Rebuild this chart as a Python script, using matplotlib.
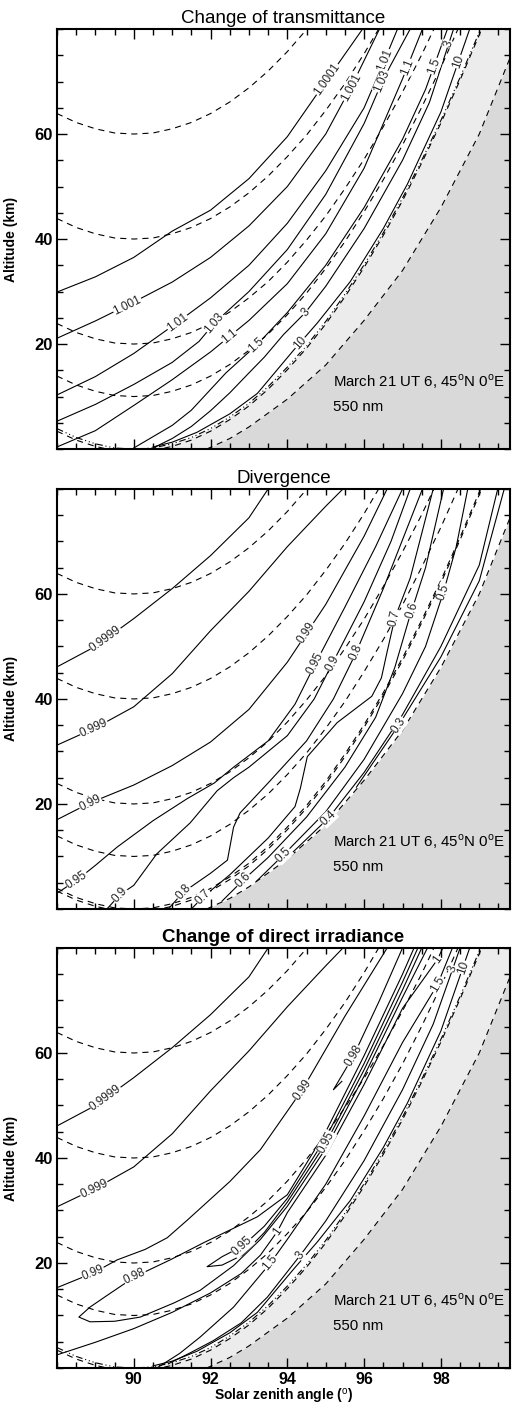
import numpy as np
import matplotlib
matplotlib.use('Agg')
import matplotlib.pyplot as plt
from matplotlib.ticker import MultipleLocator

plt.rcParams['font.family'] = ['Liberation Sans', 'DejaVu Sans']
plt.rcParams['mathtext.fontset'] = 'custom'
plt.rcParams['mathtext.rm'] = 'Liberation Sans'
plt.rcParams['mathtext.bf'] = 'Liberation Sans:bold'

# ---- reference curves (dashed): constant tangent height ----
TH_SZA = [88, 88.5, 89, 89.5, 90, 90.5, 91, 91.5, 92, 92.5, 93, 93.5, 94, 94.5,
          95, 95.5, 96, 96.5, 97, 97.5, 98, 98.5, 99, 99.5, 100]
TH60 = [63.9, 62.2, 61.0, 60.2, 60.0, 60.2, 61.0, 62.2, 63.9, 66.1, 68.8, 72.0, 75.7, 79.9, 84.6]
TH40 = [43.9, 42.2, 41.0, 40.2, 40.0, 40.2, 41.0, 42.2, 43.9, 46.1, 48.8, 52.0, 55.7, 59.8,
        64.5, 69.6, 75.3, 81.5]
TH20 = [23.9, 22.2, 21.0, 20.2, 20.0, 20.2, 21.0, 22.2, 23.9, 26.1, 28.8, 31.9, 35.6, 39.8,
        44.4, 49.6, 55.2, 61.4, 68.0, 75.1, 82.8]
TH10 = [13.9, 12.2, 11.0, 10.2, 10.0, 10.2, 11.0, 12.2, 13.9, 16.1, 18.8, 21.9, 25.6, 29.7,
        34.4, 39.5, 45.2, 51.3, 57.9, 65.1, 72.7, 80.9]
TH0 = [3.9, 2.2, 1.0, 0.2, 0.0, 0.2, 1.0, 2.2, 3.9, 6.1, 8.7, 11.9, 15.6, 19.7, 24.3, 29.5,
       35.1, 41.2, 47.8, 55.0, 62.6, 70.8, 79.4, 88.6, 98.3]
THM = [3.4, 1.7, 0.5, -0.3, -0.5, -0.3, 0.5, 1.7, 3.4, 5.6, 8.2, 11.4, 15.1, 19.2, 23.8, 29.0,
       34.6, 40.7, 47.3, 54.5, 62.1, 70.3, 78.9, 88.1, 97.8]

# edge of the dark (shadow) region
DARK_SZA = [91.9, 92.5, 93.0, 94.0, 95.0, 96.0, 97.0, 98.0, 99.0, 99.8, 100.0]
DARK_ALT = [0.0, 2.0, 4.2, 9.5, 16.0, 24.5, 34.0, 46.0, 60.0, 74.5, 78.0]

# ---- panel 1: change of transmittance ----
T_x = [[88, 89, 90, 91, 92, 93, 94, 95, 95.96],
       [88, 89, 90, 91, 92, 93, 94, 95, 95.7, 96.4],
       [88, 89, 90, 91, 92, 93, 94, 95, 96, 96.5, 96.87],
       [88, 89, 90, 91, 91.7, 92.1, 93, 94, 95, 96, 96.5, 97.2],
       [88, 89, 90, 91, 92, 93, 94, 95, 96, 97, 97.52],
       [90, 91, 91.5, 92.4, 93.2, 94, 95, 96, 97, 97.6, 98.17],
       [90.5, 91, 91.5, 92, 92.5, 93.04, 93.4, 93.9, 94.47, 95, 96, 97, 97.7, 98.33],
       [90.5, 91, 91.65, 92.5, 93.22, 94.16, 94.78, 95.64, 96.5, 97.13, 98, 98.75]]
T_y = [[29.9, 32.8, 36.5, 41.5, 45.5, 51.5, 59.5, 70.0, 80.0],
       [21.1, 24.4, 28.0, 31.8, 36.5, 42.5, 50.0, 60.0, 69.5, 80.0],
       [10.3, 13.8, 18.2, 23.4, 28.8, 35.0, 43.0, 53.0, 65.0, 73.5, 80.0],
       [5.3, 8.5, 12.3, 16.5, 20.5, 24.0, 30.0, 38.0, 48.5, 62.0, 70.5, 80.0],
       [0.4, 3.5, 8.3, 13.2, 18.5, 24.5, 31.5, 41.0, 53.5, 70.5, 80.0],
       [0.2, 4.5, 7.4, 14.5, 19.8, 26.0, 35.0, 46.0, 59.0, 68.5, 80.0],
       [0.2, 2.0, 4.3, 7.3, 10.7, 14.8, 17.5, 21.8, 26.0, 31.0, 42.0, 55.0, 66.0, 80.0],
       [0.4, 1.3, 3.2, 6.7, 10.6, 18.8, 24.0, 31.9, 42.0, 50.5, 64.2, 80.0]]
T_lab = ['1.0001', '1.001', '1.001', '1.01', '1.01', '1.03', '1.03', '1.1', '1.1',
         '1.5', '1.5', '3', '3', '10', '10']
T_lab_line = [0, 1, 1, 2, 2, 3, 3, 4, 4, 5, 5, 6, 6, 7, 7]
T_lab_x = [95.12, 89.83, 95.64, 91.13, 96.56, 92.07, 96.48, 92.51, 97.13, 93.17, 97.81,
           94.47, 98.25, 94.34, 98.38]
T_lab_y = [70.0, 27.4, 69.0, 24.2, 74.0, 24.2, 70.0, 21.3, 72.8, 19.8, 73.0, 26.0, 77.0,
           20.2, 74.0]

# ---- panel 2: divergence ----
D_x = [[88, 89, 90, 91, 92, 93, 93.5],
       [88, 89, 90, 91, 92, 93, 94, 95, 95.45],
       [88, 88.86, 90, 91, 92, 93, 94, 95, 96, 96.6],
       [88, 88.52, 89, 89.57, 90.5, 91.39, 92.1, 92.6, 93.5, 94.2, 94.68, 95.5, 96.3, 97.0],
       [89.3, 89.64, 90.0, 90.6, 91.47, 92.17, 92.6, 93.0, 94.0, 94.7, 95.12, 96.0, 96.7, 97.2],
       [90.9, 91.29, 92.0, 92.44, 92.6, 92.77, 93.5, 94.5, 95.2, 95.77, 96.5, 97.52],
       [91.5, 91.81, 92.5, 93.5, 94.2, 94.34, 94.52, 95.3, 96.2, 96.45, 96.6, 96.8, 97.2, 97.8],
       [92.3, 92.85, 93.5, 94.5, 95.5, 96.3, 96.8, 97.16, 97.6, 98.07],
       [93.2, 93.9, 95.0, 96.0, 97.0, 97.6, 98.07, 98.4, 98.7],
       [94.0, 95.07, 96.0, 97.0, 98.0, 99.0, 99.48],
       [95.8, 96.9, 98.0, 99.0, 99.65]]
D_y = [[46.1, 50.0, 55.3, 61.0, 67.3, 74.5, 80.0],
       [31.2, 34.5, 38.5, 44.8, 53.0, 60.5, 69.0, 76.7, 80.0],
       [17.0, 20.2, 23.6, 27.3, 31.8, 38.0, 47.0, 58.0, 71.0, 80.0],
       [3.0, 5.5, 8.3, 11.8, 16.8, 21.0, 24.0, 27.0, 32.0, 39.0, 46.0, 57.5, 69.0, 80.0],
       [0.0, 2.7, 4.5, 10.5, 16.4, 22.5, 25.0, 27.0, 33.0, 40.0, 46.0, 58.5, 70.0, 80.0],
       [0.0, 3.2, 6.8, 9.3, 15.6, 18.3, 24.0, 32.0, 40.0, 48.5, 61.0, 80.0],
       [0.0, 2.3, 6.5, 13.5, 19.5, 23.0, 29.0, 35.5, 40.5, 44.0, 49.0, 55.4, 63.0, 80.0],
       [1.5, 5.5, 9.8, 17.5, 27.0, 36.5, 46.0, 55.0, 65.0, 80.0],
       [5.3, 10.3, 18.5, 28.5, 41.0, 50.0, 60.4, 69.0, 80.0],
       [9.8, 17.3, 26.0, 37.0, 50.0, 65.5, 80.0],
       [23.2, 35.0, 48.0, 62.5, 80.0]]
D_lab = ['0.9999', '0.999', '0.99', '0.99', '0.95', '0.95', '0.9', '0.9', '0.8', '0.8',
         '0.7', '0.7', '0.6', '0.6', '0.5', '0.5', '0.4', '0.3']
D_lab_line = [0, 1, 2, 2, 3, 3, 4, 4, 5, 5, 6, 6, 7, 7, 8, 8, 9, 10]
D_lab_x = [89.25, 88.94, 88.86, 94.42, 88.52, 94.68, 89.64, 95.12, 91.29, 95.77, 91.81, 96.8,
           92.85, 97.16, 93.9, 98.07, 95.07, 96.9]
D_lab_y = [51.6, 34.7, 20.2, 53.0, 5.5, 47.0, 2.7, 47.0, 3.2, 49.0, 2.3, 55.4, 5.5, 57.0,
           10.3, 60.4, 17.3, 35.0]

# ---- panel 3: change of direct irradiance ----
E_x = [[88, 89, 90, 91, 92, 93, 93.5],
       [88, 89, 90, 91, 92, 93, 94, 95, 95.45],
       [88, 88.94, 89.57, 90.3, 90.87, 91.4, 92.5, 93.3, 94.39, 95.5, 96.6],
       [95.42, 95.2, 95.72, 96.4, 97.0],
       [97.3, 97.0, 96.0, 95.0, 94.0, 93.22, 91.83, 90.95, 90.03, 89.3, 88.86, 88.57, 88.86,
        89.5, 90.17, 91.05, 91.73, 92.6, 93.3, 94.0, 95.0, 96.0, 97.0, 97.65],
       [97.4, 97.0, 96.0, 95.0, 94.0, 93.4, 92.83, 92.3, 91.91, 92.3, 92.83, 93.4, 94.0, 95.0,
        96.0, 97.0, 97.5],
       [88, 89, 90, 91, 92, 92.8, 93.3, 93.74, 94.0, 95.0, 96.0, 97.0, 97.91, 98.05],
       [90.6, 91.2, 91.73, 92.6, 93.56, 94.0, 95.0, 96.0, 97.0, 97.91, 98.3],
       [90.9, 91.5, 92.07, 92.8, 93.48, 94.34, 95.0, 96.0, 97.0, 97.8, 98.5],
       [90.5, 91, 91.65, 92.5, 93.22, 94.16, 94.78, 95.64, 96.5, 97.13, 98, 98.75]]
E_y = [[46.1, 50.0, 55.3, 61.0, 67.3, 74.5, 80.0],
       [30.7, 34.2, 38.3, 44.6, 52.8, 60.4, 68.8, 76.6, 80.0],
       [15.3, 18.1, 20.6, 22.6, 24.8, 28.2, 35.5, 41.6, 53.0, 67.0, 80.0],
       [54.6, 53.0, 59.4, 70.0, 80.0],
       [80.0, 75.0, 59.5, 45.0, 33.0, 28.8, 23.9, 20.6, 17.4, 13.8, 11.6, 9.7, 8.8, 8.9, 9.7,
        12.4, 14.8, 19.5, 24.5, 30.8, 41.8, 55.6, 70.6, 80.0],
       [80.0, 73.5, 58.0, 43.8, 32.3, 27.0, 23.2, 21.2, 19.3, 19.6, 21.5, 25.8, 31.6, 42.8,
        56.8, 72.0, 80.0],
       [2.5, 4.9, 7.5, 10.6, 14.3, 18.0, 21.5, 26.0, 29.6, 40.5, 54.0, 68.5, 77.8, 80.0],
       [0.0, 2.8, 5.9, 11.6, 20.0, 24.5, 35.0, 48.0, 62.0, 73.0, 80.0],
       [0.8, 3.0, 5.2, 8.6, 13.5, 21.5, 28.0, 39.5, 53.0, 65.5, 80.0],
       [0.4, 1.3, 3.2, 6.7, 10.6, 18.8, 24.0, 31.9, 42.0, 50.5, 64.2, 80.0]]
E_lab = ['0.9999', '0.999', '0.99', '0.99', '0.98', '0.98', '0.95', '0.95', '1', '1',
         '1.5', '1.5', '3', '3', '10']
E_lab_line = [0, 1, 2, 2, 3, 4, 5, 5, 6, 6, 7, 7, 8, 8, 9]
E_lab_x = [89.25, 88.94, 88.94, 94.39, 95.72, 90.03, 92.83, 95.0, 93.74, 97.91, 93.56, 97.91,
           94.34, 98.3, 98.5]
E_lab_y = [51.6, 34.5, 18.1, 53.0, 59.4, 17.4, 23.2, 43.0, 26.0, 77.8, 20.0, 73.0, 21.5,
           76.0, 76.5]

TITLES = ['Change of transmittance', 'Divergence', 'Change of direct irradiance']
NOTE1 = 'March 21 UT 6, 45$^{\\rm o}$N 0$^{\\rm o}$E'
NOTE2 = '550 nm'

LIGHT = '#ececec'
DARK = '#d9d9d9'
DASH = (0, (5.5, 4.5))
DASHDOT3 = (0, (6, 2.5, 1, 2.5, 1, 2.5, 1, 2.5))


def put_label(ax, xs, ys, text, x0, y0):
    # put a contour label on the line nearest to (x0, y0), rotated along it
    pts = ax.transData.transform(np.column_stack([xs, ys]))
    p = ax.transData.transform((x0, y0))
    best = None
    for i in range(len(pts) - 1):
        a, b = pts[i], pts[i + 1]
        d = b - a
        t = np.clip(np.dot(p - a, d) / np.dot(d, d), 0, 1)
        q = a + t * d
        dist = np.hypot(*(p - q))
        if best is None or dist < best[0]:
            best = (dist, q, d)
    _, q, d = best
    ang = np.degrees(np.arctan2(d[1], d[0]))
    if ang > 90:
        ang -= 180
    if ang < -90:
        ang += 180
    xq, yq = ax.transData.inverted().transform(q)
    ax.text(xq, yq, text, rotation=ang, rotation_mode='anchor', ha='center', va='center',
            fontsize=8.5, color='#222222', clip_on=True, zorder=4,
            bbox=dict(fc='white', ec='none', pad=0.3))


def draw_panel(ax, title, lx, ly, labs, lab_line, lab_x, lab_y, light, bold_title, bottom):
    ax.set_xlim(88, 99.8)
    ax.set_ylim(0, 80)
    n0 = TH_SZA.index(90)
    if light:
        ax.fill_between(TH_SZA[n0:], 0, TH0[n0:], color=LIGHT, lw=0, zorder=0)
    ax.fill_between(DARK_SZA, 0, DARK_ALT, color=DARK, lw=0, zorder=0)
    ax.plot(DARK_SZA, DARK_ALT, color='k', lw=0.8, ls=DASH, zorder=2)

    for th in [TH60, TH40, TH20, TH10, THM]:
        ax.plot(TH_SZA[:len(th)], th, color='k', lw=0.8, ls=DASH, zorder=2)
    ax.plot(TH_SZA, TH0, color='k', lw=0.8, ls=DASHDOT3 if light else DASH, zorder=2)

    for xs, ys in zip(lx, ly):
        ax.plot(xs, ys, color='k', lw=0.8, zorder=3)
    for t, li, x0, y0 in zip(labs, lab_line, lab_x, lab_y):
        put_label(ax, lx[li], ly[li], t, x0, y0)

    ax.text(95.2, 12.8, NOTE1, fontsize=10.8, va='center', zorder=5)
    ax.text(95.2, 8.0, NOTE2, fontsize=10.8, va='center', zorder=5)

    ax.set_title(title, fontsize=13.5, pad=4, fontweight='bold' if bold_title else 'normal')
    ax.set_xticks([90, 92, 94, 96, 98])
    ax.xaxis.set_minor_locator(MultipleLocator(0.5))
    ax.set_yticks([20, 40, 60])
    ax.yaxis.set_minor_locator(MultipleLocator(5))
    ax.tick_params(which='both', direction='in', top=True, right=True, width=1)
    ax.tick_params(which='major', length=7)
    ax.tick_params(which='minor', length=4)
    ax.tick_params(axis='y', labelsize=12, pad=3)
    ax.tick_params(axis='x', labelsize=11.5, pad=3, labelbottom=bottom)
    for lab in ax.get_yticklabels() + ax.get_xticklabels():
        lab.set_fontweight('bold')
    for s in ax.spines.values():
        s.set_linewidth(1.5)
    ax.set_ylabel('Altitude (km)', fontsize=10, fontweight='bold')
    ax.yaxis.set_label_coords(-0.085, 0.5)
    if bottom:
        ax.set_xlabel('Solar zenith angle ($^{\\rm o}$)', fontsize=10, fontweight='bold',
                      labelpad=0)


fig = plt.figure(figsize=(5.12, 14.09), dpi=100)
ax1 = fig.add_axes([0.1113, 0.6813, 0.8848, 0.2981])
ax2 = fig.add_axes([0.1113, 0.3549, 0.8848, 0.2981])
ax3 = fig.add_axes([0.1113, 0.0291, 0.8848, 0.2981])

draw_panel(ax1, TITLES[0], T_x, T_y, T_lab, T_lab_line, T_lab_x, T_lab_y, True, False, False)
draw_panel(ax2, TITLES[1], D_x, D_y, D_lab, D_lab_line, D_lab_x, D_lab_y, False, False, False)
draw_panel(ax3, TITLES[2], E_x, E_y, E_lab, E_lab_line, E_lab_x, E_lab_y, True, True, True)

fig.savefig('out.png', dpi=100)
